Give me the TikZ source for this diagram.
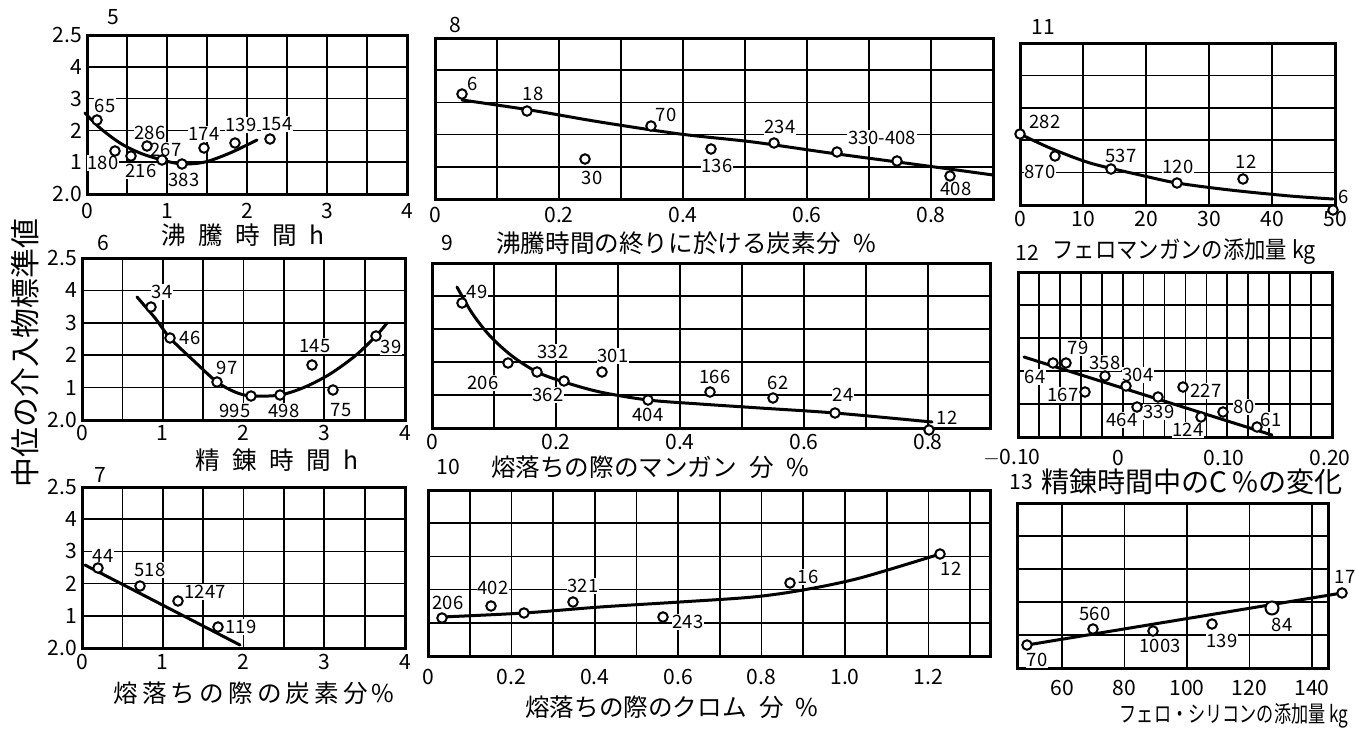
\documentclass[tikz,border=0pt]{standalone}
\usepackage{graphicx}
\usepackage{fontspec}
\setmainfont{Noto Sans CJK JP}
\newcommand{\jsp}{\hspace{0.5em}}
\begin{document}
\begin{tikzpicture}[x=0.2mm,y=-0.2mm,
    box/.style={line width=0.6mm},
    gridline/.style={line width=0.35mm},
    curve/.style={line width=0.6mm,line cap=round},
    pt/.style={circle,draw,fill=white,line width=0.4mm,inner sep=0pt,minimum size=1.9mm},
    lab/.style={fill=white,inner sep=0.6pt,font=\fontsize{10.5}{10.5}\selectfont},
    tick/.style={inner sep=1pt,font=\fontsize{12}{12}\selectfont},
    num/.style={font=\fontsize{12}{12}\selectfont},
    axtitle/.style={inner sep=0pt,font=\fontsize{14}{14}\selectfont}]
  \useasboundingbox (0,0) rectangle (1355,731);
  \node[rotate=90,font=\fontsize{17}{17}\selectfont] (ytitle) at (25,353) {中位の介入物標準値};

  \foreach \i in {1,...,7} \draw[gridline] ({87+40*\i},35) -- ({87+40*\i},194);
  \foreach \i in {1,...,4} \draw[gridline] (87,{35+31.8*\i}) -- (407,{35+31.8*\i});
  \draw[box] (87,35) rectangle (407,194);
  \foreach \lbl [count=\i from 0] in {2.5,4,3,2,1,2.0} \node[tick,anchor=east] (y5-\i) at (84,{35+31.8*\i}) {\lbl};
  \foreach \lbl [count=\i from 0] in {0,1,2,3,4} \node[tick] (x5-\i) at ({87+80*\i},211) {\lbl};
  \node[num] (n5) at (113,17) {5};
  \node[axtitle] (t5) at (243,235) {沸\jsp 騰\jsp 時\jsp 間\jsp h};
  \draw (105,106) node[lab] (l5a) {65}
        (103,163) node[lab] (l5b) {180}
        (141,171) node[lab] (l5c) {216}
        (166,150) node[lab] (l5d) {267}
        (150,133) node[lab] (l5e) {286}
        (184,180) node[lab] (l5f) {383}
        (204,134) node[lab] (l5g) {174}
        (241,125) node[lab] (l5h) {139}
        (277,124) node[lab] (l5i) {154};
  \draw[curve] plot[smooth] coordinates {(85,113) (100,128) (120,143) (140,153) (162,160) (182,164) (205,162) (230,153) (257,140)};
  \draw (97,120) node[pt] (p5a) {}
        (115,151) node[pt] (p5b) {}
        (131,156) node[pt] (p5c) {}
        (147,146) node[pt] (p5d) {}
        (162,160) node[pt] (p5e) {}
        (182,164) node[pt] (p5f) {}
        (204,148) node[pt] (p5g) {}
        (235,143) node[pt] (p5h) {}
        (270,139) node[pt] (p5i) {};

  \foreach \i in {1,...,8} \draw[gridline] ({435+62*\i},38) -- ({435+62*\i},199);
  \foreach \i in {1,...,4} \draw[gridline] (435,{38+32.2*\i}) -- (993,{38+32.2*\i});
  \draw[box] (435,38) rectangle (993,199);
  \foreach \lbl [count=\i from 0] in {0,0.2,0.4,0.6,0.8} \node[tick] (x8-\i) at ({435+124*\i},215) {\lbl};
  \node[num] (n8) at (455,25) {8};
  \node[num] (n9) at (447,243) {9};
  \node[axtitle] (t8) at (686,243) {沸騰時間の終りに於ける炭素分\jsp\%};
  \draw (473,84) node[lab] (l8a) {6}
        (533,94) node[lab] (l8b) {18}
        (592,178) node[lab] (l8c) {30}
        (666,115) node[lab] (l8d) {70}
        (717,166) node[lab] (l8e) {136}
        (780,127) node[lab] (l8f) {234}
        (882,138) node[lab] (l8g) {330-408}
        (956,189) node[lab] (l8h) {408};
  \draw[curve] plot[smooth] coordinates {(462,100) (530,110) (600,122) (680,134) (753,142) (830,153) (920,165) (993,175)};
  \draw (462,94) node[pt] (p8a) {}
        (527,111) node[pt] (p8b) {}
        (585,159) node[pt] (p8c) {}
        (651,126) node[pt] (p8d) {}
        (711,149) node[pt] (p8e) {}
        (774,143) node[pt] (p8f) {}
        (837,152) node[pt] (p8g) {}
        (897,161) node[pt] (p8h) {}
        (950,176) node[pt] (p8i) {};

  \foreach \i in {1,...,4} \draw[gridline] ({1020+63*\i},43) -- ({1020+63*\i},205);
  \foreach \i in {1,...,4} \draw[gridline] (1020,{43+32.4*\i}) -- (1335,{43+32.4*\i});
  \draw[box] (1020,43) rectangle (1335,205);
  \foreach \lbl [count=\i from 0] in {0,10,20,30,40,50} \node[tick] (x11-\i) at ({1020+63*\i},219) {\lbl};
  \node[num] (n11) at (1043,27) {11};
  \node[num] (n12) at (1027,253) {12};
  \node[axtitle,font=\fontsize{13.5}{13.5}\selectfont] (t11) at (1184,252) {\scalebox{0.9}[1]{フェロマンガンの添加量 kg}};
  \draw (1045,122) node[lab] (l11a) {282}
        (1040,172) node[lab] (l11b) {870}
        (1121,156) node[lab] (l11c) {537}
        (1178,167) node[lab] (l11d) {120}
        (1246,162) node[lab] (l11e) {12}
        (1344,197) node[lab] (l11f) {6};
  \draw[curve] plot[smooth] coordinates {(1020,134) (1050,148) (1090,163) (1140,175) (1177,183) (1230,190) (1290,196) (1333,199)};
  \draw (1020,134) node[pt] (p11a) {}
        (1055,156) node[pt] (p11b) {}
        (1111,169) node[pt] (p11c) {}
        (1177,183) node[pt] (p11d) {}
        (1243,179) node[pt] (p11e) {}
        (1333,210) node[pt] (p11f) {};

  \foreach \i in {1,...,7} \draw[gridline] ({82+40.375*\i},258) -- ({82+40.375*\i},420);
  \foreach \i in {1,...,4} \draw[gridline] (82,{258+32.4*\i}) -- (405,{258+32.4*\i});
  \draw[box] (82,258) rectangle (405,420);
  \foreach \lbl [count=\i from 0] in {2.5,4,3,2,1,2.0} \node[tick,anchor=east] (y6-\i) at (79,{258+32.4*\i}) {\lbl};
  \foreach \lbl [count=\i from 0] in {0,1,2,3,4} \node[tick] (x6-\i) at ({82+80.75*\i},433) {\lbl};
  \node[num] (n6) at (103,243) {6};
  \node[axtitle] (t6) at (277,460) {精\jsp 錬\jsp 時\jsp 間\jsp h};
  \draw (162,292) node[lab] (l6a) {34}
        (190,338) node[lab] (l6b) {46}
        (227,368) node[lab] (l6c) {97}
        (235,411) node[lab] (l6d) {995}
        (284,411) node[lab] (l6e) {498}
        (315,346) node[lab] (l6f) {145}
        (341,410) node[lab] (l6g) {75}
        (391,347) node[lab] (l6h) {39};
  \draw[curve] plot[smooth] coordinates {(137,297) (155,318) (170,338) (195,362) (217,382) (235,392) (251,396) (280,395) (305,387) (330,374) (355,356) (376,336) (387,323)};
  \draw (151,307) node[pt] (p6a) {}
        (170,338) node[pt] (p6b) {}
        (217,382) node[pt] (p6c) {}
        (251,396) node[pt] (p6d) {}
        (280,395) node[pt] (p6e) {}
        (312,365) node[pt] (p6f) {}
        (333,390) node[pt] (p6g) {}
        (376,336) node[pt] (p6h) {};

  \foreach \i in {1,...,8} \draw[gridline] ({432+62*\i},263) -- ({432+62*\i},428);
  \foreach \i in {1,...,4} \draw[gridline] (432,{263+33*\i}) -- (990,{263+33*\i});
  \draw[box] (432,263) rectangle (990,428);
  \foreach \lbl [count=\i from 0] in {0,0.2,0.4,0.6,0.8} \node[tick] (x9-\i) at ({432+124*\i},442) {\lbl};
  \node[num] (n10) at (448,467) {10};
  \node[axtitle] (t9) at (650,467) {熔落ちの際のマンガン\jsp 分\jsp\%};
  \draw (477,292) node[lab] (l9a) {49}
        (483,383) node[lab] (l9b) {206}
        (553,352) node[lab] (l9c) {332}
        (548,395) node[lab] (l9d) {362}
        (613,356) node[lab] (l9e) {301}
        (648,415) node[lab] (l9f) {404}
        (715,377) node[lab] (l9g) {166}
        (778,383) node[lab] (l9h) {62}
        (843,395) node[lab] (l9i) {24}
        (947,418) node[lab] (l9j) {12};
  \draw[curve] plot[smooth] coordinates {(457,287) (472,313) (490,336) (512,356) (537,372) (564,382) (600,392) (648,400) (700,404) (760,408) (835,413) (932,422)};
  \draw (462,303) node[pt] (p9a) {}
        (508,363) node[pt] (p9b) {}
        (537,372) node[pt] (p9c) {}
        (564,381) node[pt] (p9d) {}
        (602,372) node[pt] (p9e) {}
        (648,400) node[pt] (p9f) {}
        (710,392) node[pt] (p9g) {}
        (773,398) node[pt] (p9h) {}
        (835,413) node[pt] (p9i) {}
        (929,430) node[pt] (p9j) {};

  \foreach \i in {1,...,14} \draw[gridline] ({1018+20.933*\i},272) -- ({1018+20.933*\i},437);
  \foreach \i in {1,...,4} \draw[gridline] (1018,{272+33*\i}) -- (1332,{272+33*\i});
  \draw[box] (1018,272) rectangle (1332,437);
  \foreach \lbl [count=\i from 0] in {$-$0.10,0,0.10,0.20} \node[tick] (x12-\i) at ({1012+106*\i},458) {\lbl};
  \node[num] (n13) at (1021,482) {13};
  \node[axtitle,font=\fontsize{16}{16}\selectfont] (t12) at (1192,482) {精錬時間中のC\,\%の変化};
  \draw (1035,377) node[lab] (l12a) {64}
        (1078,348) node[lab] (l12b) {79}
        (1063,395) node[lab] (l12c) {167}
        (1105,363) node[lab] (l12d) {358}
        (1138,375) node[lab] (l12e) {304}
        (1122,420) node[lab] (l12f) {464}
        (1159,412) node[lab] (l12g) {339}
        (1206,391) node[lab] (l12h) {227}
        (1188,430) node[lab] (l12i) {124}
        (1244,407) node[lab] (l12j) {80}
        (1271,420) node[lab] (l12k) {61};
  \draw (1024,357) coordinate (s12a) (1272,435) coordinate (s12b);
  \draw[curve] (s12a) -- (s12b);
  \draw (1053,363) node[pt] (p12a) {}
        (1066,363) node[pt] (p12b) {}
        (1085,392) node[pt] (p12c) {}
        (1105,376) node[pt] (p12d) {}
        (1126,386) node[pt] (p12e) {}
        (1137,407) node[pt] (p12f) {}
        (1158,397) node[pt] (p12g) {}
        (1183,387) node[pt] (p12h) {}
        (1201,417) node[pt] (p12i) {}
        (1223,412) node[pt] (p12j) {}
        (1257,427) node[pt] (p12k) {};

  \foreach \i in {1,...,7} \draw[gridline] ({82+40.375*\i},487) -- ({82+40.375*\i},648);
  \foreach \i in {1,...,4} \draw[gridline] (82,{487+32.2*\i}) -- (405,{487+32.2*\i});
  \draw[box] (82,487) rectangle (405,648);
  \foreach \lbl [count=\i from 0] in {2.5,4,3,2,1,2.0} \node[tick,anchor=east] (y7-\i) at (79,{487+32.2*\i}) {\lbl};
  \foreach \lbl [count=\i from 0] in {0,1,2,3,4} \node[tick] (x7-\i) at ({82+80.75*\i},662) {\lbl};
  \node[num] (n7) at (100,475) {7};
  \node[axtitle] (t7) at (254,693) {熔\,落\,ち\,の\,際\,の\,炭\,素\,分\,\%};
  \draw (103,556) node[lab] (l7a) {44}
        (150,570) node[lab] (l7b) {518}
        (205,592) node[lab] (l7c) {1247}
        (241,627) node[lab] (l7d) {119};
  \draw (85,565) coordinate (s7a) (240,645) coordinate (s7b);
  \draw[curve] (s7a) -- (s7b);
  \draw (98,568) node[pt] (p7a) {}
        (140,586) node[pt] (p7b) {}
        (178,601) node[pt] (p7c) {}
        (218,627) node[pt] (p7d) {};

  \foreach \i in {1,...,13} \draw[gridline] ({428+41.7*\i},490) -- ({428+41.7*\i},656);
  \foreach \i in {1,...,4} \draw[gridline] (428,{490+33.2*\i}) -- (990,{490+33.2*\i});
  \draw[box] (428,490) rectangle (990,656);
  \foreach \lbl [count=\i from 0] in {0,0.2,0.4,0.6,0.8,1.0,1.2} \node[tick] (x10-\i) at ({428+83.4*\i},677) {\lbl};
  \node[axtitle] (t10) at (672,707) {熔落ちの際のクロム\jsp 分\jsp\%};
  \draw (448,603) node[lab] (l10a) {206}
        (493,588) node[lab] (l10b) {402}
        (583,586) node[lab] (l10c) {321}
        (688,622) node[lab] (l10d) {243}
        (808,577) node[lab] (l10e) {16}
        (951,569) node[lab] (l10f) {12};
  \draw[curve] plot[smooth] coordinates {(442,617) (524,613) (600,607) (680,602) (753,597) (803,590) (860,578) (940,554)};
  \draw (442,618) node[pt] (p10a) {}
        (491,606) node[pt] (p10b) {}
        (524,613) node[pt] (p10c) {}
        (573,602) node[pt] (p10d) {}
        (663,617) node[pt] (p10e) {}
        (790,583) node[pt] (p10f) {}
        (940,554) node[pt] (p10g) {};

  \foreach \i in {0,...,4} \draw[gridline] ({1062+62.5*\i},503) -- ({1062+62.5*\i},668);
  \foreach \i in {1,...,4} \draw[gridline] (1017,{503+33*\i}) -- (1328,{503+33*\i});
  \draw[box] (1017,503) rectangle (1328,668);
  \foreach \lbl [count=\i from 0] in {60,80,100,120,140} \node[tick] (x13-\i) at ({1062+62.5*\i},688) {\lbl};
  \node[axtitle,font=\fontsize{13}{13}\selectfont] (t13) at (1234,716) {\scalebox{0.75}[1]{フェロ・シリコンの添加量 kg}};
  \draw (1037,660) node[lab] (l13a) {70}
        (1095,614) node[lab] (l13b) {560}
        (1160,646) node[lab] (l13c) {1003}
        (1222,641) node[lab] (l13d) {139}
        (1282,625) node[lab] (l13e) {84}
        (1345,577) node[lab] (l13f) {17};
  \draw (1027,645) coordinate (s13a) (1342,593) coordinate (s13b);
  \draw[curve] (s13a) -- (s13b);
  \draw (1027,645) node[pt] (p13a) {}
        (1093,629) node[pt] (p13b) {}
        (1153,631) node[pt] (p13c) {}
        (1212,624) node[pt] (p13d) {}
        (1272,608) node[pt,minimum size=2.6mm] (p13e) {}
        (1342,593) node[pt] (p13f) {};
\end{tikzpicture}
\end{document}
